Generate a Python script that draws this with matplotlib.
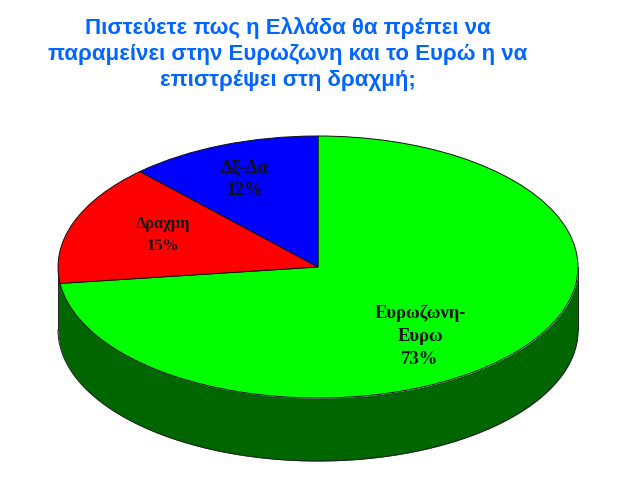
import numpy as np
import matplotlib
matplotlib.use('Agg')
import matplotlib.pyplot as plt

title = 'Πιστεύετε πως η Ελλάδα θα πρέπει να\nπαραμείνει στην Ευρωζωνη και το Ευρώ η να\nεπιστρέψει στη δραχμή;'
names = ['Ευρωζωνη-\nΕυρω', 'Δραχμη', 'Δξ-Δα']
values = [73, 15, 12]
colors = ['#00ff00', '#ff0000', '#0000ff']
side_color = '#006600'

W, H = 640, 491
cx, cy = 318, 267
rx, ry = 260, 131
depth = 63 / ry

fig = plt.figure(figsize=(W / 100, H / 100), dpi=100, facecolor='white')
ax = fig.add_axes([0, 0, 1, 1])

# side of the disc first, the pie goes on top of it
t = np.linspace(np.pi, 2 * np.pi, 300)
ax.fill_between(np.cos(t), np.sin(t) - depth, np.sin(t), color=side_color, lw=0, zorder=1)
ax.plot(np.cos(t), np.sin(t) - depth, color='#222222', lw=0.7, zorder=2)
ax.plot([-1, -1], [0, -depth], color='#222222', lw=0.7, zorder=2)
ax.plot([1, 1], [0, -depth], color='#222222', lw=0.7, zorder=2)

wedges, _ = ax.pie(values, colors=colors, startangle=90, counterclock=False, radius=1,
                   wedgeprops={'edgecolor': '#111111', 'linewidth': 0.7, 'zorder': 3})

ax.set_aspect('auto')
ax.set_xlim((0 - cx) / rx, (W - cx) / rx)
ax.set_ylim((cy - H) / ry, cy / ry)
ax.axis('off')


def px(x, y):
    return (x - cx) / rx, (cy - y) / ry


label_pos = [(420, 336), (163, 235), (245, 179)]
label_size = [13.4, 11.8, 13.2]
label_gap = [1.47, 1.45, 1.38]
for name, val, pos, size, gap in zip(names, values, label_pos, label_size, label_gap):
    x, y = px(*pos)
    ax.text(x, y, '{}\n{}%'.format(name, val), ha='center', va='center', family='Liberation Serif',
            fontweight='bold', fontsize=size, color='#111111', linespacing=gap, zorder=5)

x, y = px(288, 54)
ax.text(x, y, title, ha='center', va='center', family='Liberation Sans', fontweight='bold',
        fontsize=16, color='#0066ff', linespacing=1.32, zorder=5)

fig.savefig('out.png', dpi=100)
